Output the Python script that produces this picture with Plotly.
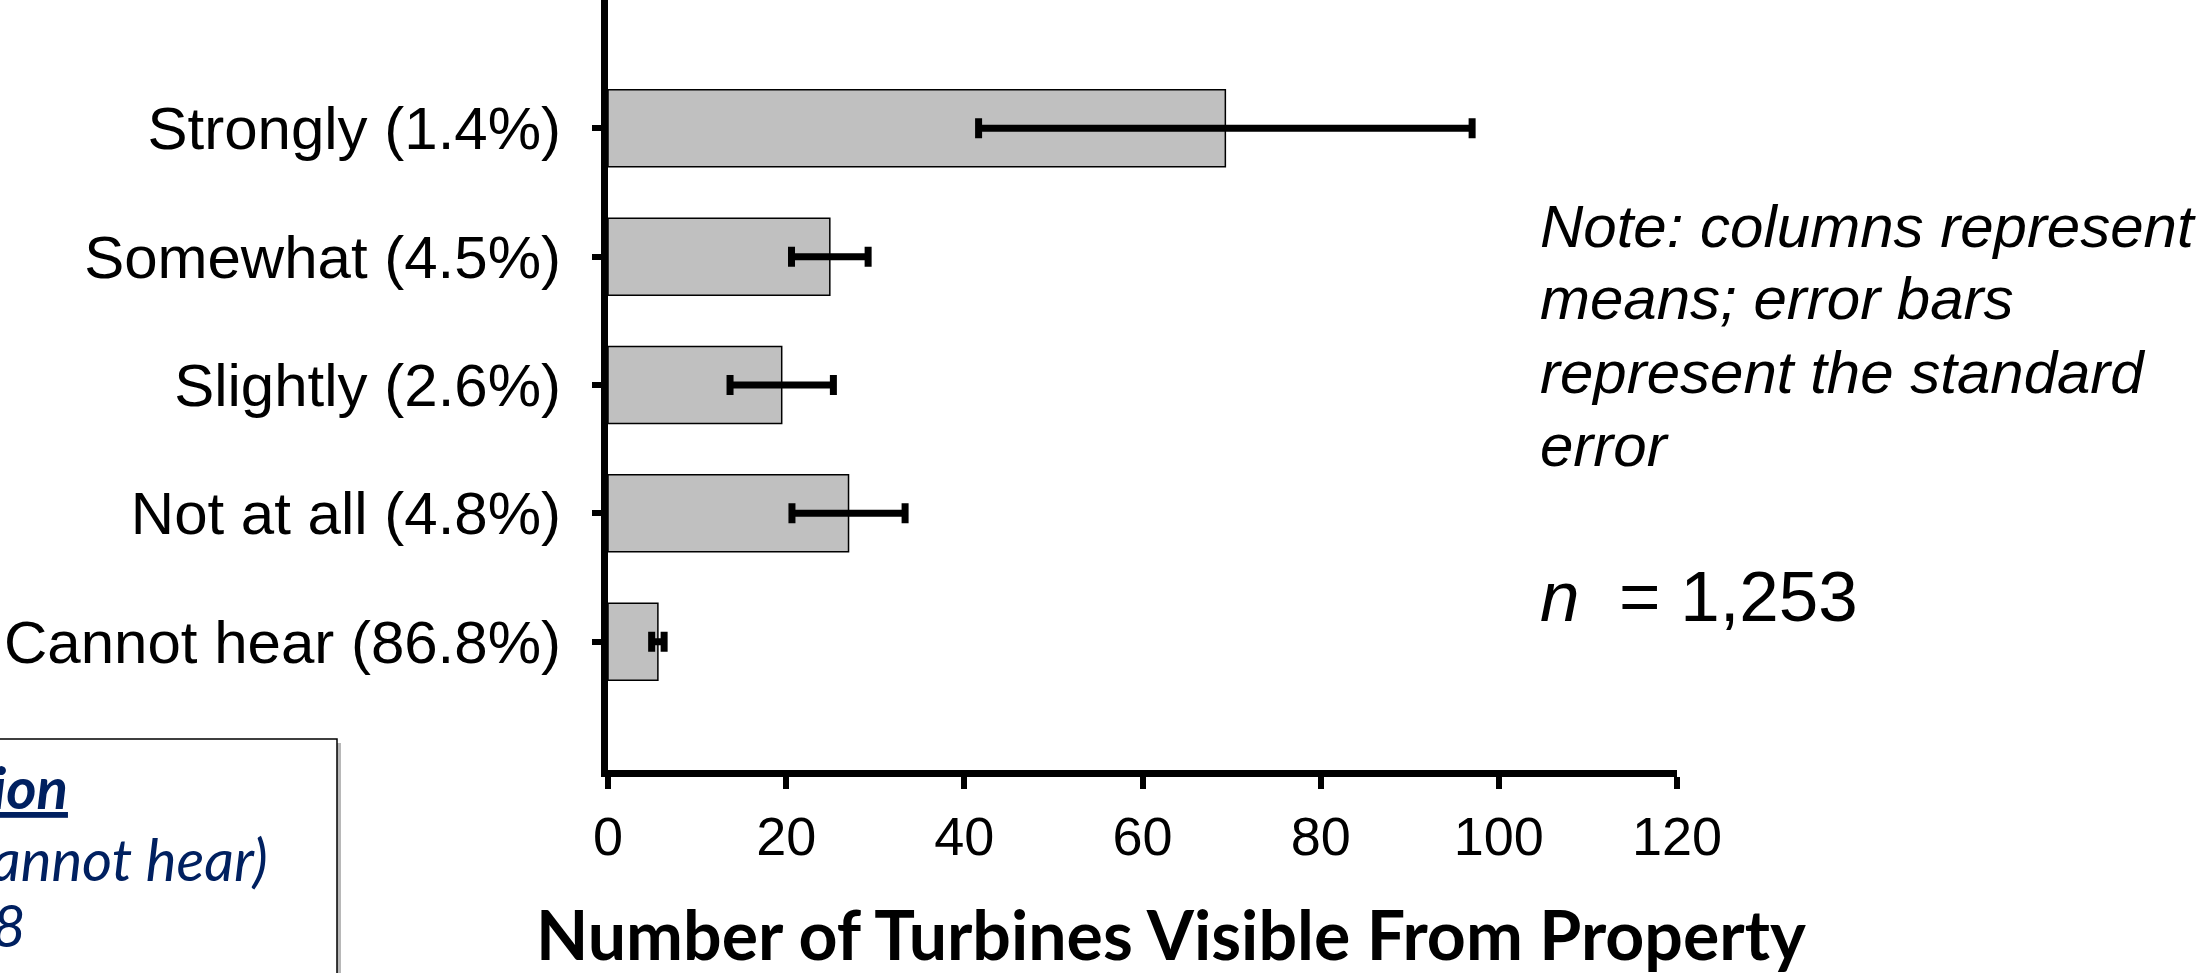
import plotly.graph_objects as go

# ---- data (bottom to top) ----
categories = ["Cannot hear (86.8%)", "Not at all (4.8%)", "Slightly (2.6%)",
              "Somewhat (4.5%)", "Strongly (1.4%)"]
means = [5.6, 27.0, 19.5, 24.9, 69.3]
std_errors = [0.7, 6.35, 5.8, 4.3, 27.7]
x_ticks = [0, 20, 40, 60, 80, 100, 120]
note_lines = ["Note: columns represent", "means; error bars",
              "represent the standard", "error"]
n_text = "n"
n_value = "1,253"
x_title = "Number of Turbines Visible From Property"
box_lines = ["ion", "annot hear)", "8"]

# ---- geometry (pixels) ----
W, H = 2206, 973
L, R, T, B = 608, 1677, 0, 770


def px(x):
    return (x - L) / (R - L)


def py(y):
    return (B - y) / (B - T)


fig = go.Figure()
fig.add_trace(go.Bar(
    y=categories, x=means, orientation="h", width=0.6,
    marker=dict(color="#C0C0C0", line=dict(color="#000000", width=1.5)),
    error_x=dict(type="data", array=std_errors, visible=True,
                 color="#000000", thickness=7, width=10),
    showlegend=False,
))

SANS = "Liberation Sans, Arial, sans-serif"

fig.update_layout(
    width=W, height=H,
    margin=dict(l=L, r=W - R, t=T, b=H - B, pad=0),
    paper_bgcolor="white", plot_bgcolor="white",
    xaxis=dict(
        range=[0, 120], tickvals=x_ticks, ticktext=[str(v) for v in x_ticks],
        showgrid=False, zeroline=False,
        showline=True, linecolor="black", linewidth=7,
        ticks="outside", ticklen=12, tickwidth=6, tickcolor="black",
        tickfont=dict(family=SANS, size=54, color="black"),
        ticklabelstandoff=1,
    ),
    yaxis=dict(
        type="category", range=[-1, 5],
        showgrid=False, zeroline=False,
        showline=True, linecolor="black", linewidth=7,
        ticks="outside", ticklen=9, tickwidth=6, tickcolor="black",
        tickfont=dict(family=SANS, size=60, color="black"),
        ticklabelstandoff=19,
    ),
)

# note text lines
note_centers = [226, 299, 372, 445]
for line, yc in zip(note_lines, note_centers):
    fig.add_annotation(
        text="<i>" + line + "</i>", xref="paper", yref="paper",
        x=px(1538), y=py(yc), xanchor="left", yanchor="middle",
        showarrow=False, font=dict(family=SANS, size=60, color="black"),
    )

# n = 1,253
fig.add_annotation(
    text="<i>" + n_text + "</i>\u00a0\u00a0= " + n_value,
    xref="paper", yref="paper", x=px(1538), y=py(596),
    xanchor="left", yanchor="middle", showarrow=False,
    font=dict(family=SANS, size=71, color="black"),
)

# x axis title
fig.add_annotation(
    text="<b>" + x_title + "</b>", xref="paper", yref="paper",
    x=px(1171), y=py(933), xanchor="center", yanchor="middle",
    showarrow=False, font=dict(family="Lato, Open Sans, sans-serif", size=68, color="black"),
)

# bottom-left box (partly off canvas) with shadow
fig.add_shape(type="rect", xref="paper", yref="paper",
              x0=px(-20), x1=px(341), y0=py(743), y1=py(1000),
              fillcolor="#9a9a9a", line=dict(width=0), opacity=0.7)
fig.add_shape(type="rect", xref="paper", yref="paper",
              x0=px(-20), x1=px(337), y0=py(739), y1=py(1000),
              fillcolor="white", line=dict(color="black", width=1.5))

NAVY = "#002060"
box_specs = [
    ("<b><i><u>" + box_lines[0] + "</u></i></b>", 70, 786),
    ("<i>" + box_lines[1] + "</i>", 270, 858),
    ("<i>" + box_lines[2] + "</i>", 28, 924),
]
for txt, xr, yc in box_specs:
    fig.add_annotation(
        text=txt, xref="paper", yref="paper", x=px(xr), y=py(yc),
        xanchor="right", yanchor="middle", showarrow=False,
        font=dict(family="Lato, Open Sans, sans-serif", size=58, color=NAVY),
    )

fig.write_html("out.html", config={"displayModeBar": False},
               post_script="document.body.style.margin='0';")
